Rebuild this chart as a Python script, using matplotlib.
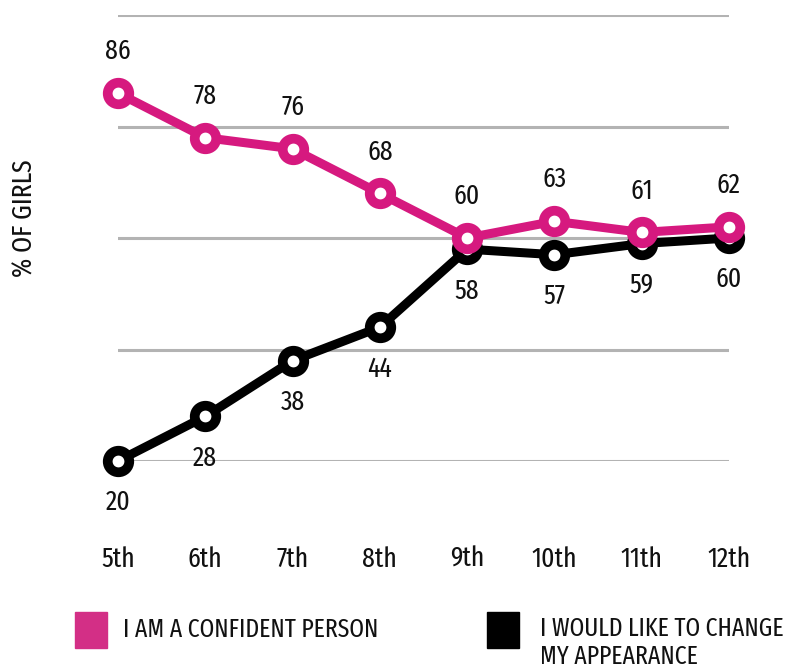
import matplotlib
matplotlib.use("Agg")
import matplotlib.pyplot as plt
from matplotlib.patches import Rectangle

plt.rcParams['font.family'] = ['Fira Sans Extra Condensed', 'Roboto Condensed',
                               'Liberation Sans Narrow', 'DejaVu Sans']

grades = ["5th", "6th", "7th", "8th", "9th", "10th", "11th", "12th"]
confident = [86, 78, 76, 68, 60, 63, 61, 62]
change_look = [20, 28, 38, 44, 58, 57, 59, 60]

PINK = "#d6197f"
BLACK = "#000000"
TXT = "#111111"
FS = 20
LEG_FS = 18.5

fig = plt.figure(figsize=(7.96, 6.69), dpi=100)
ax = fig.add_axes([118 / 796, 1 - 461 / 669, 611 / 796, 446 / 669])

x = list(range(len(grades)))
ax.plot(x, change_look, color=BLACK, lw=6.5, marker="o", ms=15.5,
        mfc="white", mec=BLACK, mew=7, clip_on=False, zorder=3)
ax.plot(x, confident, color=PINK, lw=6.5, marker="o", ms=15.5,
        mfc="white", mec=PINK, mew=7, clip_on=False, zorder=4)

for xi, v in zip(x, confident):
    ax.annotate(str(v), (xi, v), xytext=(0, 30), textcoords="offset points",
                ha="center", va="center", fontsize=FS, color=TXT)
for xi, v in zip(x, change_look):
    ax.annotate(str(v), (xi, v), xytext=(0, -30), textcoords="offset points",
                ha="center", va="center", fontsize=FS, color=TXT)

ax.set_xlim(0, 7)
ax.set_ylim(20, 100)
ax.set_yticks([20, 40, 60, 80, 100])
ax.yaxis.grid(True, color="#b3b3b3", lw=2.2)
ax.set_axisbelow(True)
ax.tick_params(axis="y", length=0, labelleft=False)
ax.set_xticks(x)
ax.set_xticklabels(grades, fontsize=FS, color=TXT)
ax.tick_params(axis="x", length=0, pad=61)
for s in ax.spines.values():
    s.set_visible(False)

fig.text(25 / 796, 1 - 218 / 669, "% OF GIRLS", rotation=90, ha="center",
         va="center", fontsize=FS, color=TXT)

# legend
fig.patches.append(Rectangle((75 / 796, 1 - 648 / 669), 32 / 796, 36 / 669,
                             transform=fig.transFigure, color="#d32f86"))
fig.text(123 / 796, 1 - 630 / 669, "I AM A CONFIDENT PERSON", ha="left",
         va="center", fontsize=LEG_FS, color=TXT)
fig.patches.append(Rectangle((487 / 796, 1 - 648 / 669), 32 / 796, 36 / 669,
                             transform=fig.transFigure, color=BLACK))
fig.text(540 / 796, 1 - 643 / 669, "I WOULD LIKE TO CHANGE\nMY APPEARANCE",
         ha="left", va="center", fontsize=LEG_FS, color=TXT, linespacing=1.15)

fig.savefig("out.png", dpi=100)
